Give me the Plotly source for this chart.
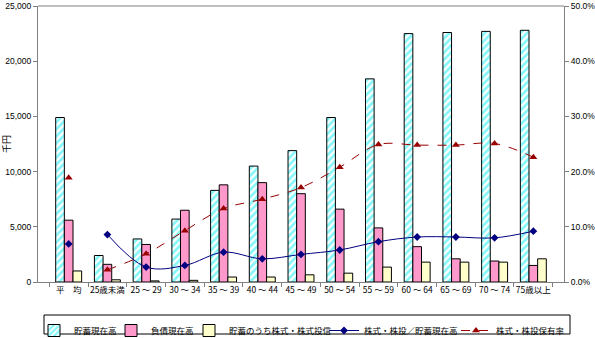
import plotly.graph_objects as go

categories = ["平　均", "25歳未満", "25 ～ 29", "30 ～ 34", "35 ～ 39", "40 ～ 44", "45 ～ 49",
              "50 ～ 54", "55 ～ 59", "60 ～ 64", "65 ～ 69", "70 ～ 74", "75歳以上"]
savings = [14900, 2400, 3900, 5700, 8300, 10500, 11900, 14900, 18400, 22500, 22600, 22700, 22800]
debt = [5600, 1600, 3400, 6500, 8800, 9000, 8000, 6600, 4900, 3200, 2100, 1900, 1500]
stocks = [1000, 200, 100, 150, 450, 450, 650, 800, 1350, 1800, 1800, 1800, 2100]
stock_ratio = [6.9, 8.6, 2.7, 3.0, 5.4, 4.2, 5.0, 5.8, 7.3, 8.15, 8.15, 8.0, 9.2]
hold_rate = [18.9, 2.2, 5.1, 9.3, 13.3, 15.0, 17.1, 20.8, 24.9, 24.8, 24.8, 25.1, 22.6]

FONT = "Noto Sans CJK JP"
NUMFONT = "Liberation Sans"
W, H = 595, 338

fig = go.Figure()
fig.add_trace(go.Bar(
    x=categories, y=savings, name="貯蓄現在高", legend="legend",
    marker=dict(color="white", line=dict(color="black", width=1),
                pattern=dict(shape="/", fgcolor="#10EEF4", bgcolor="white", size=5, solidity=0.55)),
))
fig.add_trace(go.Bar(
    x=categories, y=debt, name="負債現在高", legend="legend2",
    marker=dict(color="#FF99CC", line=dict(color="black", width=1)),
))
fig.add_trace(go.Bar(
    x=categories, y=stocks, name="貯蓄のうち株式・株式投信", legend="legend3",
    marker=dict(color="#FFFFCC", line=dict(color="black", width=1)),
))
# ratio line
fig.add_trace(go.Scatter(
    x=categories[1:], y=stock_ratio[1:], name="株式・株投／貯蓄現在高", yaxis="y2", legend="legend4",
    mode="lines+markers", line=dict(color="#000080", width=1, shape="spline"),
    marker=dict(symbol="diamond", size=6, color="#000080"),
))
fig.add_trace(go.Scatter(
    x=categories[:1], y=stock_ratio[:1], yaxis="y2", showlegend=False,
    mode="markers", marker=dict(symbol="diamond", size=6, color="#000080"),
))
# hold rate
fig.add_trace(go.Scatter(
    x=categories[1:], y=hold_rate[1:], name="株式・株投保有率", yaxis="y2", legend="legend5",
    mode="lines+markers", line=dict(color="#990000", width=1, dash="dash", shape="spline"),
    marker=dict(symbol="triangle-up", size=7, color="#990000"),
))
fig.add_trace(go.Scatter(
    x=categories[:1], y=hold_rate[:1], yaxis="y2", showlegend=False,
    mode="markers", marker=dict(symbol="triangle-up", size=7, color="#990000"),
))

# legend item text start positions (px)
legend_text_x = [76, 153, 231, 366, 498]


def leg(px):
    return dict(orientation="h", xref="container", yref="container",
                x=(px - 42) / W, xanchor="left", y=1 - 316 / H, yanchor="top",
                borderwidth=0, bgcolor="rgba(0,0,0,0)",
                font=dict(size=8.5, family=FONT), itemwidth=30)


ml, mr, mt, mb = 38, 31, 6, 56
ph = H - mt - mb
pw = W - ml - mr

fig.update_layout(
    width=W, height=H,
    margin=dict(l=ml, r=mr, t=mt, b=mb),
    paper_bgcolor="white", plot_bgcolor="white",
    font=dict(family=FONT, size=9, color="black"),
    barmode="group", bargap=0.33, bargroupgap=0,
    xaxis=dict(type="category", showline=True, linecolor="#808080", linewidth=1,
               ticks="outside", tickson="boundaries", ticklen=4, tickcolor="#808080",
               showgrid=False, tickfont=dict(size=8.5, family=FONT), tickangle=0,
               automargin=False),
    yaxis=dict(range=[0, 25000], dtick=5000, tickformat=",d", showgrid=False,
               showline=True, linecolor="#808080", linewidth=1,
               ticks="outside", ticklen=4, tickcolor="#808080",
               tickfont=dict(size=8.5, family=NUMFONT),
               title=dict(text="千円", font=dict(size=9, family=FONT, color="black"), standoff=8),
               zeroline=False, ticklabeloverflow="allow", automargin=False),
    yaxis2=dict(range=[0, 50], dtick=10, tickformat=".1f", ticksuffix="%",
                overlaying="y", side="right", showgrid=False,
                showline=True, linecolor="#808080", linewidth=1,
                ticks="outside", ticklen=4, tickcolor="#808080", zeroline=False,
                tickfont=dict(size=8.5, family=NUMFONT),
                ticklabeloverflow="allow", automargin=False),
    shapes=[
        dict(type="line", xref="paper", yref="paper", x0=0, x1=1, y0=1, y1=1,
             line=dict(color="#808080", width=1)),
        dict(type="rect", xref="paper", yref="paper",
             x0=(44 - ml) / pw, x1=(570 - ml) / pw,
             y0=(H - mb - 334) / ph, y1=(H - mb - 315) / ph,
             line=dict(color="black", width=1), fillcolor="rgba(0,0,0,0)", layer="above"),
    ],
    legend=leg(legend_text_x[0]),
    legend2=leg(legend_text_x[1]),
    legend3=leg(legend_text_x[2]),
    legend4=leg(legend_text_x[3]),
    legend5=leg(legend_text_x[4]),
)

fig.write_html("out.html")
